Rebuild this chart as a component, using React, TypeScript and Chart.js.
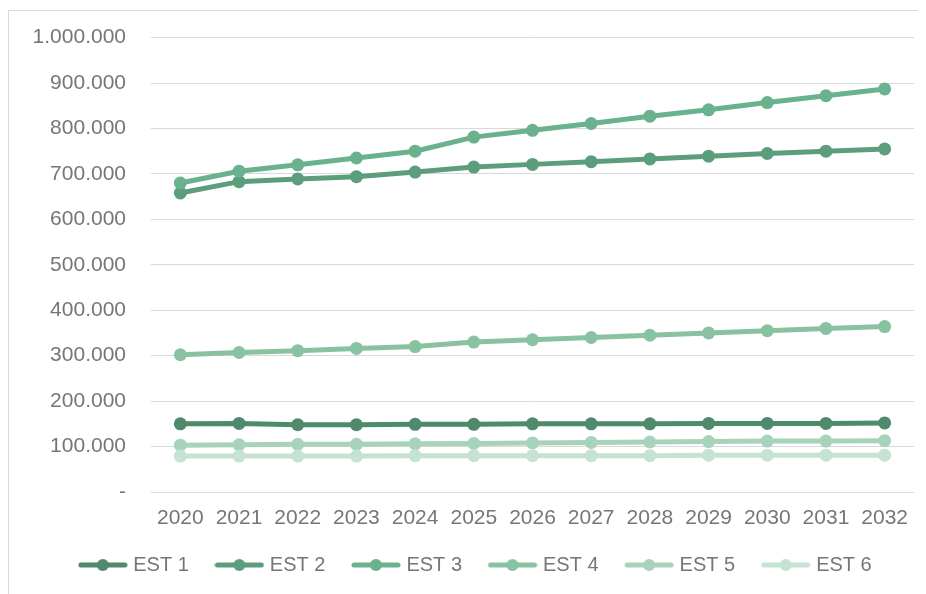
import React, { useEffect, useRef } from "react";
import { Chart, registerables } from "chart.js";

Chart.register(...registerables);

const years = ["2020", "2021", "2022", "2023", "2024", "2025", "2026", "2027", "2028", "2029", "2030", "2031", "2032"];
const seriesNames = ["EST 1", "EST 2", "EST 3", "EST 4", "EST 5", "EST 6"];
const est1 = [150000, 151000, 148000, 148000, 149000, 149000, 150000, 150000, 150000, 151000, 151000, 151000, 152000];
const est2 = [658000, 683000, 689000, 694000, 704000, 715000, 721000, 727000, 733000, 739000, 745000, 750000, 755000];
const est3 = [680000, 706000, 720000, 735000, 750000, 781000, 796000, 811000, 827000, 841000, 857000, 872000, 887000];
const est4 = [302000, 307000, 311000, 316000, 320000, 330000, 335000, 340000, 345000, 350000, 355000, 360000, 364000];
const est5 = [103000, 104000, 105000, 105000, 106000, 107000, 108000, 109000, 110000, 111000, 112000, 112000, 113000];
const est6 = [79000, 79000, 79000, 79000, 80000, 80000, 80000, 80000, 80000, 81000, 81000, 81000, 81000];
const allSeries = [est1, est2, est3, est4, est5, est6];
const colors = ["#4e8a6b", "#5c9e7c", "#6ab18d", "#89c2a1", "#a8d3bb", "#c6e2d2"];

const yMax = 1000000;
const yStep = 100000;

const FONT = "'Liberation Sans', Arial, sans-serif";
const TEXT = "#767676";

function formatTick(v: number): string {
  if (v === 0) return "-";
  return String(Math.round(v)).replace(/\B(?=(\d{3})+(?!\d))/g, ".");
}

function legendImage(color: string): HTMLCanvasElement {
  const c = document.createElement("canvas");
  c.width = 50;
  c.height = 14;
  const ctx = c.getContext("2d")!;
  ctx.strokeStyle = color;
  ctx.lineWidth = 5;
  ctx.lineCap = "round";
  ctx.beginPath();
  ctx.moveTo(3, 7);
  ctx.lineTo(47, 7);
  ctx.stroke();
  ctx.fillStyle = color;
  ctx.beginPath();
  ctx.arc(25, 7, 6, 0, Math.PI * 2);
  ctx.fill();
  return c;
}

const shiftLegend = {
  id: "shiftLegend",
  afterLayout(chart: any) {
    if (chart.legend) chart.legend.left += 32;
  },
};

export default function App() {
  const ref = useRef<HTMLCanvasElement | null>(null);

  useEffect(() => {
    if (!ref.current) return;
    const images = colors.map(legendImage);
    const chart = new Chart(ref.current, {
      type: "line",
      plugins: [shiftLegend],
      data: {
        labels: years,
        datasets: allSeries.map((d, i) => ({
          label: seriesNames[i],
          data: d,
          borderColor: colors[i],
          backgroundColor: colors[i],
          borderWidth: 5,
          pointRadius: 6.5,
          pointHoverRadius: 6.5,
          pointBorderWidth: 0,
          pointBackgroundColor: colors[i],
          tension: 0,
          order: allSeries.length - i,
        })),
      },
      options: {
        animation: false,
        responsive: true,
        maintainAspectRatio: false,
        layout: { padding: { left: 0, right: 12, top: 18, bottom: 9 } },
        scales: {
          x: {
            offset: true,
            afterFit: (s: any) => {
              s.height = 33;
            },
            grid: { display: false, drawTicks: false },
            border: { display: false },
            ticks: { color: TEXT, font: { family: FONT, size: 21 }, padding: 14, maxRotation: 0, autoSkip: false },
          },
          y: {
            min: 0,
            max: yMax,
            afterFit: (s: any) => {
              s.width = 143;
            },
            grid: { color: "#d9d9d9", lineWidth: 1, drawTicks: true, tickLength: 10, tickColor: "rgba(0,0,0,0)" },
            border: { display: false },
            ticks: {
              stepSize: yStep,
              color: TEXT,
              font: { family: FONT, size: 21 },
              padding: 15,
              callback: (v: any) => formatTick(Number(v)),
            },
          },
        },
        plugins: {
          tooltip: { enabled: false },
          legend: {
            position: "bottom",
            labels: {
              usePointStyle: true,
              pointStyleWidth: 41,
              color: TEXT,
              font: { family: FONT, size: 20 },
              padding: 30,
              sort: (a: any, b: any) => a.datasetIndex - b.datasetIndex,
              generateLabels: (c: any) => {
                const items = (Chart.defaults.plugins.legend.labels.generateLabels as any)(c);
                items.forEach((it: any) => {
                  it.pointStyle = images[it.datasetIndex];
                });
                return items;
              },
            },
          },
        },
      },
    });
    return () => chart.destroy();
  }, []);

  return (
    <div style={{ position: "relative", width: 918, height: 586, overflow: "hidden" }}>
      <div
        style={{
          position: "absolute",
          left: 0,
          top: 2,
          width: 1000,
          height: 1000,
          border: "1px solid #d9d9d9",
          boxSizing: "border-box",
        }}
      />
      <div style={{ position: "absolute", left: 0, top: 2, width: 918, height: 584 }}>
        <canvas ref={ref} />
      </div>
    </div>
  );
}
